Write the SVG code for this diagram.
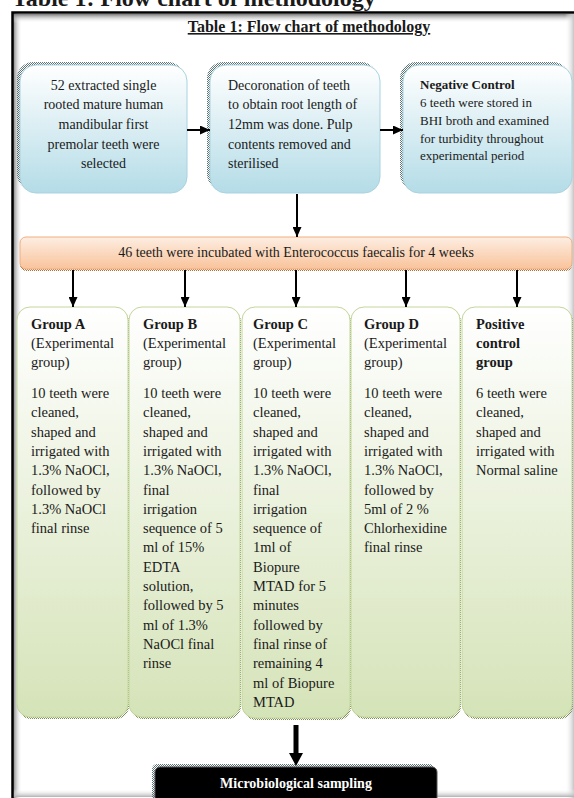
<svg xmlns="http://www.w3.org/2000/svg" width="574" height="798" viewBox="0 0 574 798">
<style>
text{font-family:"Liberation Serif","Times New Roman",serif;fill:#1a1a1a}
.b{font-weight:bold}
.t14{font-size:14px}
.t13{font-size:13px}
.g{font-size:14.5px}
.top{fill:url(#gBlue);stroke:#a9d3df;stroke-width:1}
.grp{fill:url(#gGreen);stroke:#c3d69b;stroke-width:1}
.sh{fill:url(#stip)}
.conn{stroke:#000;stroke-width:2;fill:none}
</style>
<defs>
<pattern id="stip" width="2" height="2" patternUnits="userSpaceOnUse"><rect width="1" height="1" fill="#5d7479"/><rect x="1" y="1" width="1" height="1" fill="#5d7479"/></pattern>
<pattern id="stipG" width="2" height="2" patternUnits="userSpaceOnUse"><rect width="1" height="1" fill="#7b8c55"/><rect x="1" y="1" width="1" height="1" fill="#7b8c55"/></pattern>
<pattern id="stipO" width="2" height="2" patternUnits="userSpaceOnUse"><rect width="1" height="1" fill="#a8703f"/><rect x="1" y="1" width="1" height="1" fill="#a8703f"/></pattern>
<linearGradient id="gBlue" x1="0" y1="0" x2="0" y2="1"><stop offset="0" stop-color="#ffffff"/><stop offset="1" stop-color="#b4dce7"/></linearGradient>
<linearGradient id="gGreen" x1="0" y1="0" x2="0" y2="1"><stop offset="0" stop-color="#ffffff"/><stop offset="1" stop-color="#d5e3b8"/></linearGradient>
<linearGradient id="gOrange" x1="0" y1="0" x2="0" y2="1"><stop offset="0" stop-color="#fdeee2"/><stop offset="1" stop-color="#f9c39b"/></linearGradient>
<linearGradient id="shL" x1="0" y1="0" x2="1" y2="0"><stop offset="0" stop-color="#7a7a7a"/><stop offset="1" stop-color="#ffffff" stop-opacity="0"/></linearGradient>
<linearGradient id="shT" x1="0" y1="0" x2="0" y2="1"><stop offset="0" stop-color="#7a7a7a"/><stop offset="1" stop-color="#ffffff" stop-opacity="0"/></linearGradient>
<linearGradient id="shR" x1="0" y1="0" x2="1" y2="0"><stop offset="0" stop-color="#ffffff" stop-opacity="0"/><stop offset="1" stop-color="#c4c4c4"/></linearGradient>
<linearGradient id="shB" x1="0" y1="0" x2="0" y2="1"><stop offset="0" stop-color="#ffffff" stop-opacity="0"/><stop offset="1" stop-color="#b0b0b0"/></linearGradient>
<marker id="ah" markerWidth="10" markerHeight="9" refX="10" refY="4.5" orient="auto" markerUnits="userSpaceOnUse"><path d="M0,0 L10,4.5 L0,9 Z" fill="#000"/></marker>
</defs>

<rect width="574" height="798" fill="#ffffff"/>
<text x="12" y="6" class="b" style="font-size:24px">Table 1: Flow chart of methodology</text>

<g id="frame">
<rect x="13" y="13" width="9" height="785" fill="url(#shL)"/>
<rect x="13" y="14" width="561" height="9" fill="url(#shT)"/>
<rect x="565" y="14" width="9" height="784" fill="url(#shR)"/>
<rect x="13" y="789" width="561" height="8" fill="url(#shB)"/>
<path d="M12.5,798 V12.5 H574" stroke="#000" stroke-width="2.5" fill="none"/>
</g>

<g id="title">
<text x="309" y="32" text-anchor="middle" class="b" style="font-size:16px;text-decoration:underline">Table 1: Flow chart of methodology</text>
</g>

<g id="box1">
<rect x="17" y="62" width="167" height="128" rx="16" class="sh"/>
<rect x="20" y="65" width="167" height="128" rx="16" class="top"/>
<text class="t14" text-anchor="middle"><tspan x="103.5" y="89.5">52 extracted single</tspan><tspan x="103.5" y="109">rooted mature human</tspan><tspan x="103.5" y="129">mandibular first</tspan><tspan x="103.5" y="148.5">premolar teeth were</tspan><tspan x="103.5" y="168">selected</tspan></text>
</g>

<g id="box2">
<rect x="207" y="62" width="170" height="128" rx="16" class="sh"/>
<rect x="210" y="65" width="170" height="128" rx="16" class="top"/>
<text class="t14"><tspan x="228" y="89.5">Decoronation of teeth</tspan><tspan x="228" y="109">to obtain root length of</tspan><tspan x="228" y="129">12mm was done. Pulp</tspan><tspan x="228" y="148.5">contents removed and</tspan><tspan x="228" y="168">sterilised</tspan></text>
</g>

<g id="box3">
<rect x="400" y="62" width="169" height="128" rx="16" class="sh"/>
<rect x="403" y="65" width="169" height="128" rx="16" class="top"/>
<text class="t13"><tspan x="420" y="89" class="b">Negative Control</tspan><tspan x="420" y="107">6 teeth were stored in</tspan><tspan x="420" y="124.5">BHI broth and examined</tspan><tspan x="420" y="142.5">for turbidity throughout</tspan><tspan x="420" y="160">experimental period</tspan></text>
</g>

<g id="banner">
<rect x="20" y="239" width="552" height="32" rx="6" fill="url(#stipO)"/>
<rect x="20" y="237" width="552" height="32" rx="6" fill="url(#gOrange)" stroke="#f0ad7e" stroke-width="1"/>
<text x="296" y="257" text-anchor="middle" class="t14">46 teeth were incubated with Enterococcus faecalis for 4 weeks</text>
</g>

<g id="groupA">
<rect x="18" y="309" width="111" height="410" rx="13" fill="url(#stipG)"/>
<rect x="17" y="307" width="111" height="410" rx="13" class="grp"/>
<text class="g"><tspan x="31" y="329" class="b">Group A</tspan><tspan x="31" y="348">(Experimental</tspan><tspan x="31" y="367">group)</tspan><tspan x="31" y="398">10 teeth were</tspan><tspan x="31" y="417.3">cleaned,</tspan><tspan x="31" y="436.6">shaped and</tspan><tspan x="31" y="455.9">irrigated with</tspan><tspan x="31" y="475.2">1.3% NaOCl,</tspan><tspan x="31" y="494.5">followed by</tspan><tspan x="31" y="513.8">1.3% NaOCl</tspan><tspan x="31" y="533.1">final rinse</tspan></text>
</g>

<g id="groupB">
<rect x="130" y="309" width="111" height="410" rx="13" fill="url(#stipG)"/>
<rect x="129" y="307" width="111" height="410" rx="13" class="grp"/>
<text class="g"><tspan x="143" y="329" class="b">Group B</tspan><tspan x="143" y="348">(Experimental</tspan><tspan x="143" y="367">group)</tspan><tspan x="143" y="398">10 teeth were</tspan><tspan x="143" y="417.3">cleaned,</tspan><tspan x="143" y="436.6">shaped and</tspan><tspan x="143" y="455.9">irrigated with</tspan><tspan x="143" y="475.2">1.3% NaOCl,</tspan><tspan x="143" y="494.5">final</tspan><tspan x="143" y="513.8">irrigation</tspan><tspan x="143" y="533.1">sequence of 5</tspan><tspan x="143" y="552.4">ml of 15%</tspan><tspan x="143" y="571.7">EDTA</tspan><tspan x="143" y="591">solution,</tspan><tspan x="143" y="610.3">followed by 5</tspan><tspan x="143" y="629.6">ml of 1.3%</tspan><tspan x="143" y="648.9">NaOCl final</tspan><tspan x="143" y="668.2">rinse</tspan></text>
</g>

<g id="groupC">
<rect x="243" y="309" width="108" height="411" rx="13" fill="url(#stipG)"/>
<rect x="242" y="307" width="108" height="411" rx="13" class="grp"/>
<text class="g"><tspan x="253" y="329" class="b">Group C</tspan><tspan x="253" y="348">(Experimental</tspan><tspan x="253" y="367">group)</tspan><tspan x="253" y="398">10 teeth were</tspan><tspan x="253" y="417.3">cleaned,</tspan><tspan x="253" y="436.6">shaped and</tspan><tspan x="253" y="455.9">irrigated with</tspan><tspan x="253" y="475.2">1.3% NaOCl,</tspan><tspan x="253" y="494.5">final</tspan><tspan x="253" y="513.8">irrigation</tspan><tspan x="253" y="533.1">sequence of</tspan><tspan x="253" y="552.4">1ml of</tspan><tspan x="253" y="571.7">Biopure</tspan><tspan x="253" y="591">MTAD for 5</tspan><tspan x="253" y="610.3">minutes</tspan><tspan x="253" y="629.6">followed by</tspan><tspan x="253" y="648.9">final rinse of</tspan><tspan x="253" y="668.2">remaining 4</tspan><tspan x="253" y="687.5">ml of Biopure</tspan><tspan x="253" y="706.8">MTAD</tspan></text>
</g>

<g id="groupD">
<rect x="352" y="309" width="109" height="410" rx="13" fill="url(#stipG)"/>
<rect x="351" y="307" width="109" height="410" rx="13" class="grp"/>
<text class="g"><tspan x="364" y="329" class="b">Group D</tspan><tspan x="364" y="348">(Experimental</tspan><tspan x="364" y="367">group)</tspan><tspan x="364" y="398">10 teeth were</tspan><tspan x="364" y="417.3">cleaned,</tspan><tspan x="364" y="436.6">shaped and</tspan><tspan x="364" y="455.9">irrigated with</tspan><tspan x="364" y="475.2">1.3% NaOCl,</tspan><tspan x="364" y="494.5">followed by</tspan><tspan x="364" y="513.8">5ml of 2 %</tspan><tspan x="364" y="533.1">Chlorhexidine</tspan><tspan x="364" y="552.4">final rinse</tspan></text>
</g>

<g id="groupPositive">
<rect x="463" y="309" width="110" height="410" rx="13" fill="url(#stipG)"/>
<rect x="462" y="307" width="110" height="410" rx="13" class="grp"/>
<text class="g"><tspan x="476" y="329" class="b">Positive</tspan><tspan x="476" y="348" class="b">control</tspan><tspan x="476" y="367" class="b">group</tspan><tspan x="476" y="398">6 teeth were</tspan><tspan x="476" y="417.3">cleaned,</tspan><tspan x="476" y="436.6">shaped and</tspan><tspan x="476" y="455.9">irrigated with</tspan><tspan x="476" y="475.2">Normal saline</tspan></text>
</g>

<g id="sampling">
<rect x="152" y="764" width="282" height="40" rx="5" fill="url(#stip)"/>
<rect x="155" y="767" width="282" height="40" rx="5" fill="#000" stroke="#555" stroke-width="1"/>
<text x="296" y="788" text-anchor="middle" class="b t14" style="fill:#ffffff">Microbiological sampling</text>
</g>

<g id="connectors">
<line x1="187" y1="130" x2="210" y2="130" class="conn" marker-end="url(#ah)"/>
<line x1="380" y1="130" x2="403" y2="130" class="conn" marker-end="url(#ah)"/>
<line x1="297" y1="194" x2="297" y2="237" class="conn" marker-end="url(#ah)"/>
<line x1="73" y1="270" x2="73" y2="307" class="conn" marker-end="url(#ah)"/>
<line x1="185" y1="270" x2="185" y2="307" class="conn" marker-end="url(#ah)"/>
<line x1="296" y1="270" x2="296" y2="307" class="conn" marker-end="url(#ah)"/>
<line x1="406" y1="270" x2="406" y2="307" class="conn" marker-end="url(#ah)"/>
<line x1="517" y1="270" x2="517" y2="307" class="conn" marker-end="url(#ah)"/>
<path d="M293.5,725 H298.5 V753 H303 L296,766 L289,753 H293.5 Z" fill="#000"/>
</g>
</svg>
